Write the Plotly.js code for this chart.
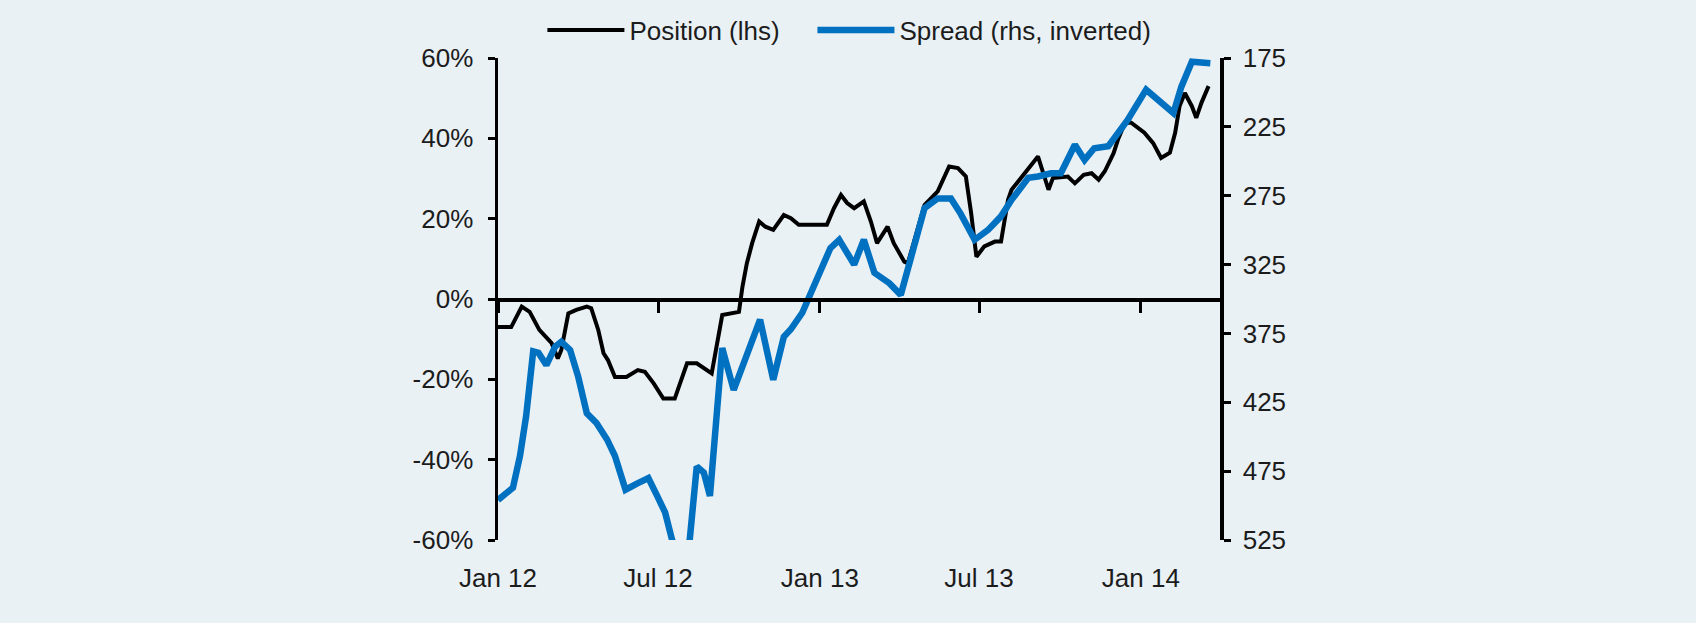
<!DOCTYPE html>
<html><head><meta charset="utf-8">
<script src="https://cdn.plot.ly/plotly-3.0.1.min.js"></script>
<style>html,body{margin:0;padding:0;background:#E9F1F5;} #chart{width:1696px;height:623px;}</style>
</head><body><div id="chart"></div>
<script>
const positionDates = ['2012-01-01','2012-01-16','2012-01-28','2012-02-06','2012-02-17','2012-03-02','2012-03-09','2012-03-13','2012-03-21','2012-03-30','2012-04-11','2012-04-16','2012-04-24','2012-04-30','2012-05-05','2012-05-13','2012-05-26','2012-06-08','2012-06-16','2012-06-26','2012-07-07','2012-07-20','2012-07-26','2012-08-03','2012-08-14','2012-08-31','2012-09-12','2012-09-21','2012-10-01','2012-10-05','2012-10-10','2012-10-16','2012-10-24','2012-10-31','2012-11-09','2012-11-21','2012-11-29','2012-12-08','2013-01-09','2013-01-17','2013-01-25','2013-02-01','2013-02-09','2013-02-20','2013-02-28','2013-03-07','2013-03-19','2013-03-26','2013-04-07','2013-04-11','2013-04-30','2013-05-15','2013-05-28','2013-06-07','2013-06-16','2013-06-22','2013-06-28','2013-07-07','2013-07-19','2013-07-26','2013-08-03','2013-08-07','2013-09-06','2013-09-18','2013-09-23','2013-10-10','2013-10-18','2013-10-28','2013-11-06','2013-11-14','2013-11-21','2013-12-01','2013-12-06','2013-12-14','2013-12-21','2014-01-05','2014-01-15','2014-01-24','2014-02-03','2014-02-09','2014-02-14','2014-02-20','2014-02-28','2014-03-05','2014-03-11','2014-03-19'];
const positionValues = [-7,-7,-1.9,-3.2,-7.7,-11,-14.8,-12.7,-3.6,-2.7,-1.9,-2.3,-7.7,-13.5,-15.2,-19.4,-19.4,-17.7,-18.1,-21,-24.8,-24.8,-21,-16,-16,-18.5,-4,-3.6,-3.2,3.1,8.9,13.9,19.3,18,17.2,20.9,20.1,18.5,18.5,22.6,25.9,23.9,22.6,24.3,19.3,13.9,18,13.9,9.3,8.9,23.4,26.8,33,32.6,30.5,21.4,10.5,13.1,14.3,14.3,24.7,27.2,35.5,27.2,30.1,30.5,28.8,30.9,31.3,29.7,31.8,36.3,39.7,43.9,43.9,41.4,38.8,35.1,36.4,41.4,48,51.3,48,45.1,48.9,53];
const spreadDates = ['2012-01-01','2012-01-18','2012-01-26','2012-02-02','2012-02-10','2012-02-16','2012-02-25','2012-03-06','2012-03-13','2012-03-23','2012-04-01','2012-04-11','2012-04-22','2012-05-04','2012-05-13','2012-05-25','2012-06-07','2012-06-20','2012-06-30','2012-07-09','2012-07-17','2012-07-26','2012-08-06','2012-08-14','2012-08-22','2012-08-29','2012-09-12','2012-09-25','2012-10-25','2012-11-09','2012-11-21','2012-11-29','2012-12-12','2012-12-20','2013-01-02','2013-01-13','2013-01-23','2013-02-09','2013-02-20','2013-03-04','2013-03-21','2013-04-03','2013-04-15','2013-04-30','2013-05-15','2013-05-30','2013-06-10','2013-06-26','2013-07-11','2013-07-26','2013-08-07','2013-08-26','2013-09-06','2013-09-21','2013-10-02','2013-10-18','2013-10-29','2013-11-09','2013-11-25','2013-12-17','2014-01-07','2014-01-22','2014-02-07','2014-02-16','2014-02-28','2014-03-21'];
const spreadValues = [496,487,464,435,388,389,398,384.5,381,387,406,433,440,452,464,488.5,484,480,493,505,525,545,525,471.6,476,493,385.6,416,365,408.7,377.5,372,360,348,326.5,313,307,325,307,331,338.5,347,319,284,277,277,288,307,300,290,278,262,261,258.7,258.7,238,249,240.5,239,220,198,206.7,215,196,177.7,178.8];
const seriesNames = ['Position (lhs)','Spread (rhs, inverted)'];
const xTickVals = ['2012-01-01','2012-07-01','2013-01-01','2013-07-01','2014-01-01'];
const xTickText = ['Jan 12','Jul 12','Jan 13','Jul 13','Jan 14'];
const leftTickVals = [-60,-40,-20,0,20,40,60];
const leftTickText = ['-60%','-40%','-20%','0%','20%','40%','60%'];
const rightTickVals = [175,225,275,325,375,425,475,525];
const rightTickText = ['175','225','275','325','375','425','475','525'];
const xRange = ['2012-01-01','2014-04-01'];
const leftRange = [-60,60];
const rightRange = [525,175];

const FONT = 'Liberation Sans, Arial, sans-serif';
const TXT = '#1c1c1c';

const traces = [
  {x: positionDates, y: positionValues, name: seriesNames[0], type: 'scatter', mode: 'lines',
   line: {color: '#000000', width: 4}, xaxis: 'x', yaxis: 'y', hoverinfo: 'skip', legend: 'legend'},
  {x: spreadDates, y: spreadValues, name: seriesNames[1], type: 'scatter', mode: 'lines',
   line: {color: '#0070C0', width: 6.5}, xaxis: 'x', yaxis: 'y2', hoverinfo: 'skip', legend: 'legend2'},
  {x: [xRange[0]], y: [0], xaxis: 'x2', yaxis: 'y', mode: 'markers', marker: {opacity: 0},
   showlegend: false, hoverinfo: 'skip'}
];

const legendBase = {orientation: 'h', xanchor: 'left', y: 1.058, yanchor: 'middle',
  bgcolor: 'rgba(0,0,0,0)', font: {family: FONT, size: 26, color: TXT}, itemwidth: 77};

const layout = {
  width: 1696, height: 623,
  paper_bgcolor: '#E9F1F5', plot_bgcolor: '#E9F1F5',
  margin: {l: 498, r: 476, t: 58, b: 83, autoexpand: false},
  font: {family: FONT, size: 26, color: TXT},
  showlegend: true,
  legend: Object.assign({}, legendBase, {x: 0.0615}),
  legend2: Object.assign({}, legendBase, {x: 0.4355}),
  xaxis: {type: 'date', range: xRange, tickvals: xTickVals, ticktext: xTickText,
          showgrid: false, zeroline: false, showline: false, ticks: '',
          ticklabelstandoff: 20, tickfont: {family: FONT, size: 26, color: TXT}, fixedrange: true},
  xaxis2: {type: 'date', range: xRange, tickvals: xTickVals, overlaying: 'x', anchor: 'free', position: 0.5,
           showticklabels: false, showgrid: false, zeroline: false, showline: true,
           linecolor: '#000', linewidth: 3.5, ticks: 'outside', ticklen: 11, tickwidth: 3, tickcolor: '#000'},
  yaxis: {range: leftRange, tickvals: leftTickVals, ticktext: leftTickText,
          showgrid: false, zeroline: false, showline: true, linecolor: '#000', linewidth: 3.5,
          ticks: 'outside', ticklen: 7, tickwidth: 3, tickcolor: '#000',
          ticklabelstandoff: 9, tickfont: {family: FONT, size: 26, color: TXT}},
  yaxis2: {range: rightRange, tickvals: rightTickVals, ticktext: rightTickText,
           overlaying: 'y', side: 'right', anchor: 'x',
           showgrid: false, zeroline: false, showline: true, linecolor: '#000', linewidth: 3.5,
           ticks: 'outside', ticklen: 7, tickwidth: 3, tickcolor: '#000',
           ticklabelstandoff: 7, tickfont: {family: FONT, size: 26, color: TXT}}
};

Plotly.newPlot('chart', traces, layout, {staticPlot: true, displayModeBar: false});
</script>
</body></html>
